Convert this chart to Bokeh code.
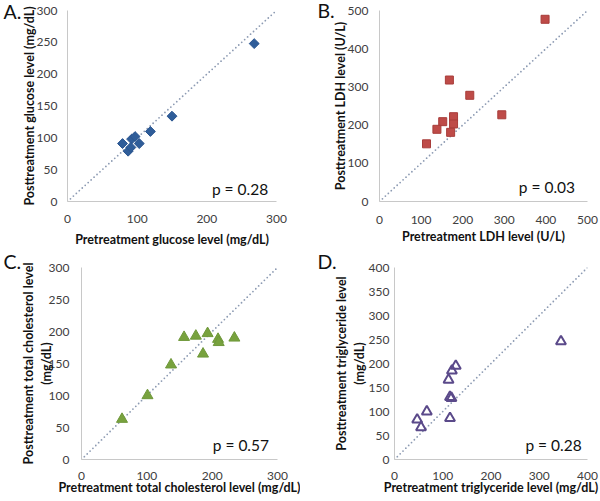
import math
from bokeh.plotting import figure
from bokeh.models import Range1d, FixedTicker, Label
from bokeh.layouts import column, row
from bokeh.embed import file_html
from bokeh.resources import INLINE

# ---- data ----
glu_pre = [268, 150, 119, 79, 92, 97, 103, 87, 91]
glu_post = [248, 134, 110, 91, 98, 102, 91, 79, 85]

ldh_pre = [398, 168, 217, 294, 178, 178, 152, 138, 171, 113]
ldh_post = [477, 318, 278, 227, 222, 203, 209, 189, 181, 151]

chol_pre = [62, 101, 137, 157, 175, 193, 209, 210, 234, 186]
chol_post = [63, 100, 148, 191, 193, 197, 188, 183, 190, 165]

tg_pre = [47, 55, 67, 115, 112, 119, 127, 115, 118, 345]
tg_post = [83, 67, 100, 86, 166, 185, 195, 130, 128, 246]

glu_ticks = [0, 100, 200, 300]
glu_yticks = [0, 50, 100, 150, 200, 250, 300]
ldh_ticks = [0, 100, 200, 300, 400, 500]
chol_ticks = [0, 100, 200, 300]
chol_yticks = [0, 50, 100, 150, 200, 250, 300]
tg_ticks = [0, 100, 200, 300, 400]
tg_yticks = [0, 50, 100, 150, 200, 250, 300, 350, 400]

FONT = "Lato"
TICK_FS = "12px"
LABEL_FS = "12.5px"


def panel(vmax, xticks, yticks, xlabel, ylabel, w, h, borders,
          letter, letter_off, letter_standoff,
          ptext, ptext_xy, y_standoff, y_lab_standoff,
          x_standoff, x_lab_standoff):
    left, right, top, bottom = borders
    p = figure(width=w, height=h, output_backend="svg", toolbar_location=None,
               x_range=Range1d(0, vmax), y_range=Range1d(0, vmax),
               min_border_left=left, min_border_right=right,
               min_border_top=top, min_border_bottom=bottom)
    p.outline_line_color = None
    p.grid.visible = False
    p.background_fill_color = "white"
    p.border_fill_color = "white"
    for ax in (p.xaxis[0], p.yaxis[0]):
        ax.axis_line_color = "#c8c8c8"
        ax.axis_line_width = 1
        ax.major_tick_line_color = None
        ax.minor_tick_line_color = None
        ax.major_tick_out = 0
        ax.major_tick_in = 0
        ax.major_label_text_font = FONT
        ax.major_label_text_font_size = TICK_FS
        ax.major_label_text_color = "#404040"
        ax.axis_label_text_font = FONT
        ax.axis_label_text_font_size = LABEL_FS
        ax.axis_label_text_font_style = "bold"
        ax.axis_label_text_color = "#111111"
        ax.axis_label_text_line_height = 1.15
    p.xaxis.ticker = FixedTicker(ticks=xticks)
    p.yaxis.ticker = FixedTicker(ticks=yticks)
    p.xaxis.axis_label = xlabel
    p.yaxis.axis_label = ylabel
    p.yaxis.major_label_standoff = y_standoff
    p.yaxis.axis_label_standoff = y_lab_standoff
    p.xaxis.major_label_standoff = x_standoff
    p.xaxis.axis_label_standoff = x_lab_standoff
    # panel letter as the (unclipped) title
    p.title.text = letter
    p.title.align = "left"
    p.title.offset = letter_off
    p.title.standoff = letter_standoff
    p.title.text_font = FONT
    p.title.text_font_size = "19.5px"
    p.title.text_font_style = "normal"
    p.title.text_color = "#111111"
    p.title.vertical_align = "bottom"
    p.title.text_baseline = "bottom"
    # identity line
    p.line(x=[0, vmax], y=[0, vmax], line_color="#8d9bb3", line_width=1.8,
           line_dash="0 4", line_cap="round")
    p.add_layout(Label(x=ptext_xy[0], y=ptext_xy[1], text=ptext,
                       text_font=FONT, text_font_size="15.5px",
                       text_baseline="middle", text_align="right",
                       text_color="#111111"))
    return p


pa = panel(300, glu_ticks, glu_yticks,
           "Pretreatment glucose level (mg/dL)",
           "Posttreatment glucose level (mg/dL)",
           300, 250, (67, 24, 9, 49), "A.", -64, -24, "p = 0.28", (288, 20),
           10, -3, 13, 6)
pa.scatter(glu_pre, glu_post, marker="square", angle=math.pi / 4, size=7,
           fill_color="#2f5d99", line_color="#2a5590")

pb = panel(500, ldh_ticks, ldh_ticks,
           "Pretreatment LDH level (U/L)",
           "Posttreatment LDH level (U/L)",
           300, 250, (79, 13, 10, 49), "B.", -62, -22, "p = 0.03", (470, 37),
           11, -3, 14, 2)
pb.scatter(ldh_pre, ldh_post, marker="square", size=8,
           fill_color="#be4b48", line_color="#a83d3a")

pc = panel(300, chol_ticks, chol_yticks,
           "Pretreatment total cholesterol level (mg/dL)",
           "Posttreatment total cholesterol level\n(mg/dL)",
           300, 251, (81, 23, 17, 42), "C.", -78, -10, "p = 0.57", (287, 23),
           12, -8, 12, -3)
pc.scatter(chol_pre, chol_post, marker="triangle", size=11,
           fill_color="#78a23e", line_color="#6f983a")

pd_ = panel(400, tg_ticks, tg_yticks,
            "Pretreatment triglyceride level (mg/dL)",
            "Posttreatment triglyceride level\n(mg/dL)",
            300, 251, (94, 13, 17, 41), "D.", -77, -10, "p = 0.28", (388, 30),
            5, -1, 12, -3)
pd_.scatter(tg_pre, tg_post, marker="triangle", size=10,
            fill_color=None, line_color="#5b4a8a", line_width=2)

layout = column(row(pa, pb), row(pc, pd_))

open("out.html", "w").write(file_html(layout, INLINE))
